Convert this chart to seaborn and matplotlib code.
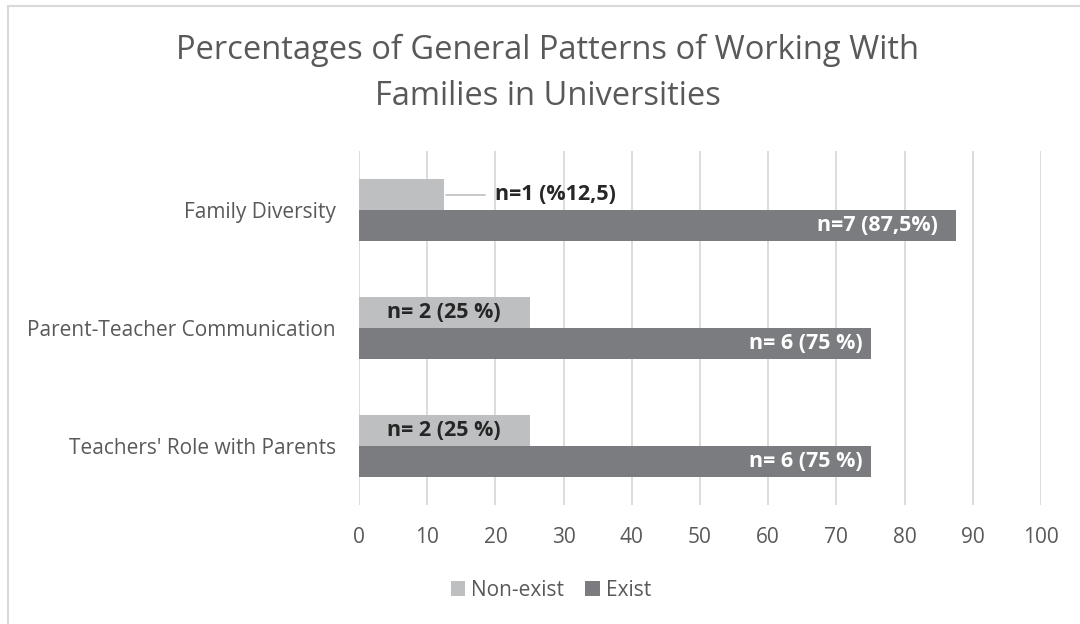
import matplotlib
matplotlib.use("Agg")
import matplotlib.pyplot as plt
import seaborn as sns
import pandas as pd
from matplotlib.patches import Rectangle

categories = ["Family Diversity", "Parent-Teacher Communication", "Teachers' Role with Parents"]
non_exist = [12.5, 25, 25]
exist = [87.5, 75, 75]
non_exist_labels = ["n=1 (%12,5)", "n= 2 (25 %)", "n= 2 (25 %)"]
exist_labels = ["n=7 (87,5%)", "n= 6 (75 %)", "n= 6 (75 %)"]
series_names = ["Non-exist", "Exist"]
x_ticks = [0, 10, 20, 30, 40, 50, 60, 70, 80, 90, 100]

df = pd.DataFrame({
    "Category": categories * 2,
    "Value": non_exist + exist,
    "Series": [series_names[0]] * 3 + [series_names[1]] * 3,
})

sns.set_theme(style="white")
plt.rcParams["font.family"] = ["Open Sans", "DejaVu Sans"]

fig = plt.figure(figsize=(10.8, 6.24), dpi=100)
ax = fig.add_axes([359 / 1080, 1 - 505 / 624, (1041 - 359) / 1080, (505 - 151) / 624])

colors = {"Non-exist": "#bebfc1", "Exist": "#7b7c7f"}
sns.barplot(data=df, y="Category", x="Value", hue="Series", hue_order=series_names,
            order=categories, palette=colors, width=0.52, ax=ax, legend=True,
            saturation=1, edgecolor="none")

ax.set_xlim(0, 100)
ax.set_ylim(2.5, -0.5)
ax.set_xticks(x_ticks)
ax.set_xticklabels([str(t) for t in x_ticks], fontsize=15, color="#595959")
ax.tick_params(axis="x", pad=16, length=0)
ax.tick_params(axis="y", pad=16.5, length=0, labelsize=15, labelcolor="#595959")
ax.set_xlabel("")
ax.set_ylabel("")
ax.grid(axis="x", color="#d9d9d9", linewidth=1.3)
ax.set_axisbelow(True)
for s in ax.spines.values():
    s.set_visible(False)

# bar labels
nonexist_bars = ax.containers[0]
exist_bars = ax.containers[1]
for i, (bar, lab) in enumerate(zip(nonexist_bars, non_exist_labels)):
    yc = bar.get_y() + bar.get_height() / 2
    w = bar.get_width()
    if w < 15:
        ax.plot([w + 0.2, w + 6.0], [yc, yc], color="#bfbfbf", lw=1.2)
        ax.text(w + 7.4, yc, lab, ha="left", va="center", fontsize=15.5,
                fontweight="bold", color="#262626")
    else:
        ax.text(w / 2, yc, lab, ha="center", va="center", fontsize=15.5,
                fontweight="bold", color="#262626")

exist_pad = [2.6, 1.2, 1.2]
for bar, lab, pad in zip(exist_bars, exist_labels, exist_pad):
    yc = bar.get_y() + bar.get_height() / 2
    w = bar.get_width()
    ax.text(w - pad, yc, lab, ha="right", va="center", fontsize=15.5,
            fontweight="bold", color="white")

# legend centred on the figure
handles, labels = ax.get_legend_handles_labels()
ax.get_legend().remove()
fig.legend(handles, labels, loc="center", bbox_to_anchor=(551 / 1080, 1 - 590 / 624), ncol=2,
           frameon=False, fontsize=15, handlelength=0.7, handleheight=0.7, handletextpad=0.3,
           columnspacing=1.0, labelcolor="#595959")

fig.text(548 / 1080, 1 - 73.5 / 624, "Percentages of General Patterns of Working With\nFamilies in Universities",
         ha="center", va="center", fontsize=23.5, color="#595959", linespacing=1.5)

fig.patches.append(Rectangle((8 / 1080, -0.01), 1.02, 1 - 6 / 624 + 0.01, transform=fig.transFigure,
                             fill=False, edgecolor="#d9d9d9", linewidth=1.5))

fig.savefig("out.png", dpi=100)
